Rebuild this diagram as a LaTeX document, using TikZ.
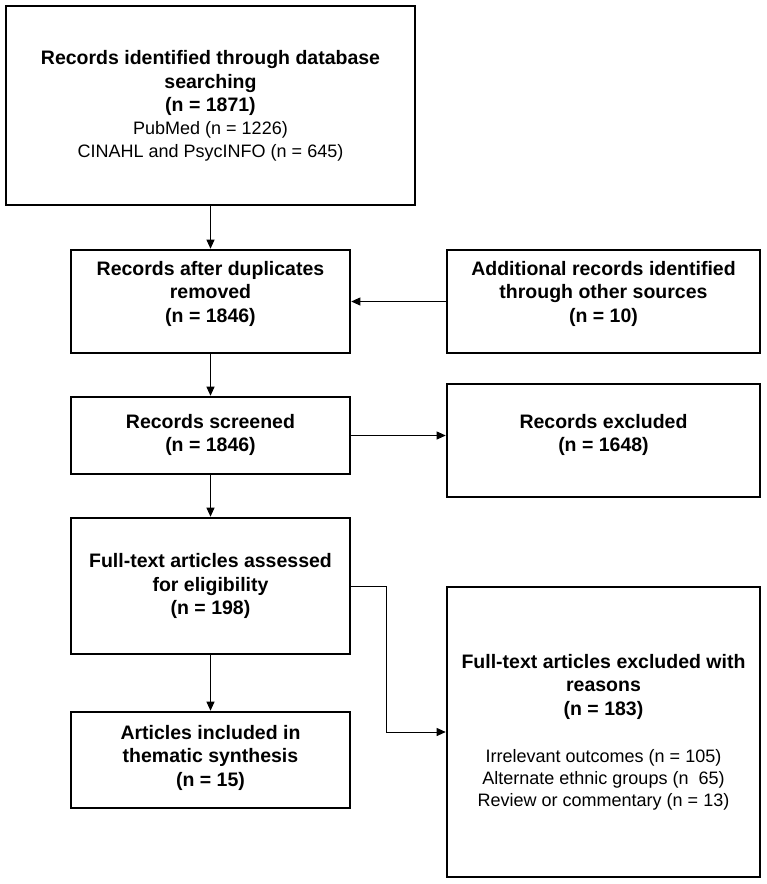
\documentclass[tikz,border=0pt]{standalone}
\usepackage{fontspec}
\setmainfont{Liberation Sans}
\usetikzlibrary{arrows.meta}
\newcommand\bl[1]{{\fontsize{19.5}{23.5}\selectfont\bfseries #1}}
\begin{document}
\begin{tikzpicture}[x=1pt,y=-1pt,
  box/.style={draw, line width=2.6pt, inner sep=0pt},
  txt/.style={align=center, inner sep=0pt, font=\fontsize{18}{23.5}\selectfont},
  arr/.style={line width=0.9pt, -{Triangle[length=9pt,width=8pt]}},
  link/.style={line width=0.9pt}]
\useasboundingbox (0,0) rectangle (767,884);
% boxes
\node[box, minimum width=409pt, minimum height=199pt] (b1) at (210.5,105.5) {};
\node[box, minimum width=279pt, minimum height=103pt] (b2) at (210.5,301.5) {};
\node[box, minimum width=313pt, minimum height=103pt] (b3) at (603.5,301.5) {};
\node[box, minimum width=279pt, minimum height=77pt]  (b4) at (210.5,435.5) {};
\node[box, minimum width=313pt, minimum height=113pt] (b5) at (603.5,440.5) {};
\node[box, minimum width=279pt, minimum height=136pt] (b6) at (210.5,586) {};
\node[box, minimum width=279pt, minimum height=96pt]  (b7) at (210.5,760) {};
\node[box, minimum width=313pt, minimum height=290pt] (b8) at (603.5,732) {};
% texts
\node[txt] (t1) at (210.5,106) {\bl{Records identified through database}\\ \bl{searching}\\ \bl{(n = 1871)}\\[-0.5pt] PubMed (n = 1226)\\[-0.5pt] CINAHL and PsycINFO (n = 645)};
\node[txt] (t2) at (210.5,293.5) {\bl{Records after duplicates}\\ \bl{removed}\\ \bl{(n = 1846)}};
\node[txt] (t3) at (603.5,293.5) {\bl{Additional records identified}\\ \bl{through other sources}\\ \bl{(n = 10)}};
\node[txt] (t4) at (210.5,435) {\bl{Records screened}\\ \bl{(n = 1846)}};
\node[txt] (t5) at (603.5,435) {\bl{Records excluded}\\ \bl{(n = 1648)}};
\node[txt] (t6) at (210.5,586) {\bl{Full-text articles assessed}\\ \bl{for eligibility}\\ \bl{(n = 198)}};
\node[txt] (t7) at (210.5,757.5) {\bl{Articles included in}\\ \bl{thematic synthesis}\\ \bl{(n = 15)}};
\node[txt] (t8) at (603.5,732) {\bl{Full-text articles excluded with}\\ \bl{reasons}\\ \bl{(n = 183)}\\[23.5pt] Irrelevant outcomes (n = 105)\\[-1.5pt] Alternate ethnic groups (n\ \ 65)\\[-1.5pt] Review or commentary (n = 13)};
% connectors
\draw[arr] (b1.south) -- (b2.north);
\draw[arr] (b3.west) -- (b2.east);
\draw[arr] (b2.south) -- (b4.north);
\draw[arr] (b4.east) -- (b4.east -| b5.west);
\draw[arr] (b4.south) -- (b6.north);
\draw[arr] (b6.south) -- (b7.north);
\draw[arr] (b6.east) -- ++(35,0) |- (b8.west);
\end{tikzpicture}
\end{document}
